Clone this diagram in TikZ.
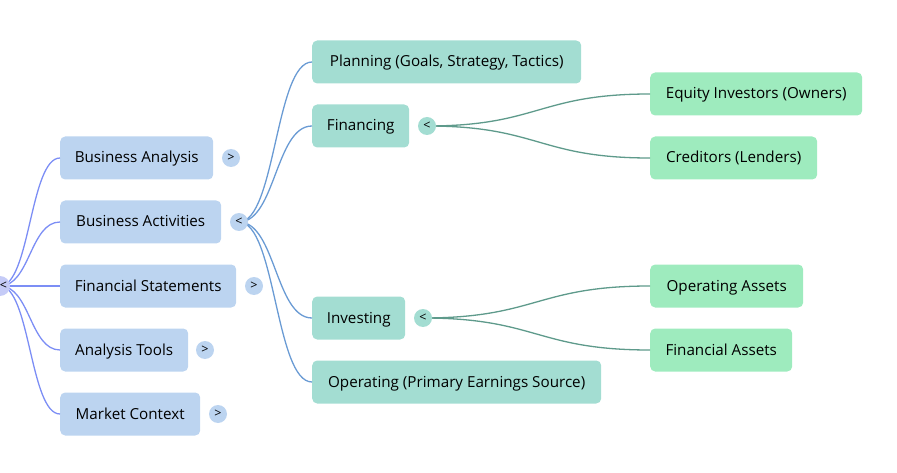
\documentclass[tikz,border=0pt]{standalone}
\usepackage{fontspec}
\setmainfont{Open Sans}
\usetikzlibrary{calc,backgrounds}
\definecolor{lvA}{HTML}{BCD4F0}
\definecolor{lvB}{HTML}{A3DDD2}
\definecolor{lvC}{HTML}{9EEBBE}
\definecolor{rootT}{HTML}{C5CBF7}
\definecolor{edgeA}{HTML}{7C8EF5}
\definecolor{edgeB}{HTML}{6A9BD4}
\definecolor{edgeC}{HTML}{5E9A8B}
\tikzset{
  box/.style={rounded corners=5pt, minimum height=43pt, anchor=west, inner xsep=0pt,
    text height=11pt, text depth=1pt,
    font=\fontsize{15.2}{17}\selectfont, text=black},
  boxA/.style={box, fill=lvA},
  boxB/.style={box, fill=lvB},
  boxC/.style={box, fill=lvC},
  tog/.style={circle, minimum size=18pt, inner sep=0pt, font=\fontsize{12.5}{12.5}\selectfont},
  eA/.style={edgeA, line width=1.3pt},
  eB/.style={edgeB, line width=1.3pt},
  eC/.style={edgeC, line width=1.3pt},
}
\newcommand\mlink[3]{%
  \coordinate (mm) at ($(#1)!0.5!(#2.west)$);
  \draw[#3] (#1) .. controls (mm |- #1) and (mm |- #2.west) .. (#2.west);}
\begin{document}
\begin{tikzpicture}[x=1pt,y=-1pt]
\useasboundingbox (0,0) rectangle (897,473);
% level 1
\node[boxA, minimum width=153pt] (ba) at (60,158) {Business Analysis};
\node[boxA, minimum width=161pt] (bact) at (60,222) {Business Activities};
\node[boxA, minimum width=176pt] (fs) at (60,286) {Financial Statements};
\node[boxA, minimum width=128pt] (at) at (60,350) {Analysis Tools};
\node[boxA, minimum width=140pt] (mc) at (60,414) {Market Context};
% level 2
\node[boxB, minimum width=269pt] (pl) at (312,62) {Planning (Goals, Strategy, Tactics)};
\node[boxB, minimum width=97pt] (fin) at (312,126) {Financing};
\node[boxB, minimum width=93pt] (inv) at (312,318) {Investing};
\node[boxB, minimum width=289pt] (op) at (312,382) {Operating (Primary Earnings Source)};
% level 3
\node[boxC, minimum width=212pt] (eq) at (650,94) {Equity Investors (Owners)};
\node[boxC, minimum width=167pt] (cr) at (650,158) {Creditors (Lenders)};
\node[boxC, minimum width=153pt] (oa) at (650,286) {Operating Assets};
\node[boxC, minimum width=142pt] (fa) at (650,350) {Financial Assets};
% toggle centres
\coordinate (tR) at (0,286);
\coordinate (tBA) at (231,158);
\coordinate (tBAct) at (239,222);
\coordinate (tFS) at (254,286);
\coordinate (tAT) at (205,350);
\coordinate (tMC) at (218,414);
\coordinate (tFin) at (427,126);
\coordinate (tInv) at (423,318);
% edges
\mlink{tR}{ba}{eA}
\mlink{tR}{bact}{eA}
\mlink{tR}{fs}{eA}
\mlink{tR}{at}{eA}
\mlink{tR}{mc}{eA}
\mlink{tBAct}{pl}{eB}
\mlink{tBAct}{fin}{eB}
\mlink{tBAct}{inv}{eB}
\mlink{tBAct}{op}{eB}
\mlink{tFin}{eq}{eC}
\mlink{tFin}{cr}{eC}
\mlink{tInv}{oa}{eC}
\mlink{tInv}{fa}{eC}
% toggles
\node[tog, fill=rootT, minimum size=20pt] (togR) at (tR) {\hspace*{7pt}<};
\node[tog, fill=lvA] (togBA) at (tBA) {>};
\node[tog, fill=lvA] (togBAct) at (tBAct) {<};
\node[tog, fill=lvA] (togFS) at (tFS) {>};
\node[tog, fill=lvA] (togAT) at (tAT) {>};
\node[tog, fill=lvA] (togMC) at (tMC) {>};
\node[tog, fill=lvB] (togFin) at (tFin) {<};
\node[tog, fill=lvB] (togInv) at (tInv) {<};
\end{tikzpicture}
\end{document}
